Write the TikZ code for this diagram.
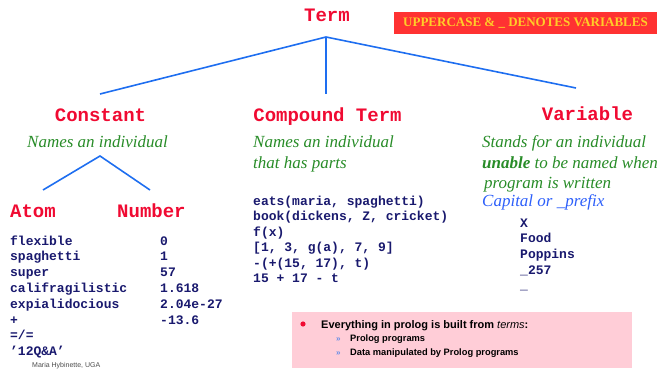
\documentclass[tikz,border=0pt]{standalone}
\usepackage{fontspec}
\setmainfont{Liberation Serif}
\setsansfont{Liberation Sans}
\setmonofont{Liberation Mono}
\usetikzlibrary{positioning}

\definecolor{kindred}{RGB}{240,10,50}
\definecolor{branchblue}{RGB}{30,110,240}
\definecolor{notegreen}{RGB}{40,140,40}
\definecolor{prefixblue}{RGB}{45,95,250}
\definecolor{codenavy}{RGB}{25,25,110}
\definecolor{bannerred}{RGB}{255,50,50}
\definecolor{banneryellow}{RGB}{255,205,40}
\definecolor{boxpink}{RGB}{255,205,215}
\definecolor{subblue}{RGB}{100,140,230}

\tikzset{
  kind/.style={font=\ttfamily\bfseries\fontsize{19}{19}\selectfont, text=kindred, inner sep=0pt, anchor=base},
  note/.style={font=\itshape\fontsize{17}{20}\selectfont, text=notegreen, inner sep=0pt, anchor=base west},
  code/.style={font=\ttfamily\bfseries\fontsize{13}{15}\selectfont, text=codenavy, inner sep=0pt, anchor=base west},
  branch/.style={branchblue, line width=1.6pt},
  banner/.style={fill=bannerred, text=banneryellow, font=\bfseries\fontsize{13}{13}\selectfont,
    minimum width=263pt, minimum height=22pt, inner sep=0pt},
  boxtext/.style={font=\sffamily\bfseries\fontsize{11}{12}\selectfont, inner sep=0pt, anchor=base west},
  subtext/.style={font=\sffamily\bfseries\fontsize{9.3}{10}\selectfont, inner sep=0pt, anchor=base west},
  submark/.style={font=\sffamily\bfseries\fontsize{8}{8}\selectfont, text=subblue, inner sep=0pt, anchor=base west},
}

\begin{document}
\begin{tikzpicture}[x=1pt,y=-1pt]
\useasboundingbox (0,0) rectangle (657,369);

\node[banner] (banner) at (525.5,23) {UPPERCASE \& \_ DENOTES VARIABLES};

% the tree of terms
\node[kind] (term) at (327,22) {Term};
\node[kind] (constant) at (100.5,122) {Constant};
\node[kind] (compound) at (327.5,122) {Compound Term};
\node[kind] (variable) at (587.5,121) {Variable};
\node[kind, anchor=base west] (atom) at (10,217) {Atom};
\node[kind, anchor=base west] (number) at (117,217) {Number};

\coordinate (termfork) at (326,37);
\coordinate (constfoot) at (100,94);
\coordinate (compfoot) at (326,94);
\coordinate (varfoot) at (576,88);
\draw[branch] (constfoot) -- (termfork) -- (varfoot);
\draw[branch] (termfork) -- (compfoot);

\coordinate (constfork) at (100,156);
\coordinate (atomfoot) at (43,190);
\coordinate (numfoot) at (150,190);
\draw[branch] (atomfoot) -- (constfork) -- (numfoot);

% notes
\node[note] (constnote) at (27,148) {Names an individual};
\node[note] (compnote1) at (253,148) {Names an individual};
\node[note] (compnote2) at (253,168) {that has parts};
\node[note] (varnote1) at (482,148) {Stands for an individual};
\node[note] (varnote2) at (482,168) {\bfseries unable\mdseries{} to be named when};
\node[note] (varnote3) at (484,188) {program is written};
\node[note, text=prefixblue] (varnote4) at (482,207) {Capital or \_prefix};

% examples
\foreach \ex [count=\i from 0] in {flexible, spaghetti, super, califragilistic,
    expialidocious, +, =/=, ’12Q\&A’}
  \node[code] (atom\i) at (10,245+15.8*\i) {\ex};
\foreach \ex [count=\i from 0] in {0, 1, 57, 1.618, 2.04e-27, -13.6}
  \node[code] (num\i) at (160,245+15.8*\i) {\ex};
\foreach \ex [count=\i from 0] in {{eats(maria, spaghetti)}, {book(dickens, Z, cricket)},
    f(x), {[1, 3, g(a), 7, 9]}, {-(+(15, 17), t)}, 15 + 17 - t}
  \node[code] (comp\i) at (253,205+15.5*\i) {\ex};
\foreach \ex [count=\i from 0] in {X, Food, Poppins, \_257, \_}
  \node[code] (var\i) at (520,227+15.7*\i) {\ex};

% summary box
\fill[boxpink] (292,312) rectangle (632,368);
\fill[kindred] (303,324) circle (2.6);
\node[boxtext] (everything) at (321,328.3) {Everything in prolog is built from \mdseries\itshape terms\upshape\bfseries:};
\node[submark] (mark1) at (336,341.7) {»};
\node[submark] (mark2) at (336,355) {»};
\node[subtext] (sub1) at (350,341.7) {Prolog programs};
\node[subtext] (sub2) at (350,355) {Data manipulated by Prolog programs};

\node[boxtext, font=\sffamily\fontsize{7}{8}\selectfont, text=black!70] (footer) at (32,367.6) {Maria Hybinette, UGA};
\end{tikzpicture}
\end{document}
